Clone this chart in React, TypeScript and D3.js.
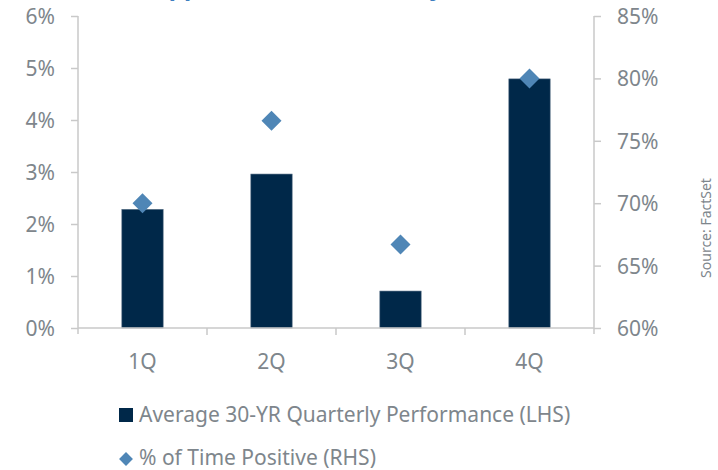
import React from "react";
import * as d3 from "d3";

const quarters = ["1Q", "2Q", "3Q", "4Q"];
const avgPerformance = [2.28, 2.96, 0.71, 4.79];
const timePositive = [70.0, 76.6, 66.7, 80.0];
const leftTicks = [0, 1, 2, 3, 4, 5, 6];
const rightTicks = [60, 65, 70, 75, 80, 85];
const legendLabels = [
  "Average 30-YR Quarterly Performance (LHS)",
  "% of Time Positive (RHS)",
];

const W = 718;
const H = 470;
const margin = { top: 16, right: 124, bottom: 142, left: 78 };
const FONT = "'Noto Sans', sans-serif";
const GRAY = "#7e868c";
const AXIS = "#c9c9c9";
const BAR = "#002849";
const DIAMOND = "#4f86b6";
const FS = 21;

export default function App() {
  const ref = React.useRef<SVGSVGElement>(null);

  React.useEffect(() => {
    const svg = d3.select(ref.current);
    svg.selectAll("*").remove();

    const x0 = margin.left;
    const x1 = W - margin.right;
    const y0 = H - margin.bottom;
    const y1 = margin.top;

    const x = d3.scaleBand().domain(quarters).range([x0, x1]);
    const yL = d3.scaleLinear().domain([0, 6]).range([y0, y1]);
    const yR = d3.scaleLinear().domain([60, 85]).range([y0, y1]);

    // title (cut off at the top of the frame, as in the source image)
    svg
      .append("text")
      .attr("x", 140)
      .attr("y", -5)
      .attr("font-family", FONT)
      .attr("font-weight", 700)
      .attr("font-size", 24)
      .attr("fill", "#3f7fc0")
      .text("Support from Seasonality Builds Late in the Year");

    // left axis
    const gl = svg
      .append("g")
      .attr("transform", `translate(${x0},0)`)
      .call(
        d3
          .axisLeft(yL)
          .tickValues(leftTicks)
          .tickSize(7)
          .tickPadding(16)
          .tickFormat((d) => `${d}%`)
      );
    gl.select(".domain").remove();
    gl.append("line").attr("x1", 0).attr("x2", 0).attr("y1", y1).attr("y2", y0 + 6).attr("stroke", AXIS).attr("stroke-width", 1.5);

    // right axis
    const gr = svg
      .append("g")
      .attr("transform", `translate(${x1},0)`)
      .call(
        d3
          .axisRight(yR)
          .tickValues(rightTicks)
          .tickSize(7)
          .tickPadding(16)
          .tickFormat((d) => `${d}%`)
      );
    gr.select(".domain").remove();
    gr.append("line").attr("x1", 0).attr("x2", 0).attr("y1", y1).attr("y2", y0 + 6).attr("stroke", AXIS).attr("stroke-width", 1.5);

    [gl, gr].forEach((g) => {
      g.selectAll(".tick line").attr("stroke", AXIS).attr("stroke-width", 1.5);
      g.selectAll(".tick text")
        .attr("fill", GRAY)
        .attr("font-family", FONT)
        .attr("font-size", FS)
        .attr("dy", "0.36em");
    });

    // bars
    const bw = x.bandwidth() * 0.32;
    svg
      .append("g")
      .selectAll("rect")
      .data(quarters)
      .join("rect")
      .attr("x", (d) => (x(d) as number) + x.bandwidth() / 2 - bw / 2)
      .attr("y", (d, i) => yL(avgPerformance[i]))
      .attr("width", bw)
      .attr("height", (d, i) => y0 - yL(avgPerformance[i]))
      .attr("fill", BAR)
      .attr("stroke", "#45607a")
      .attr("stroke-width", 0.6);

    // x axis
    svg.append("line").attr("x1", x0).attr("x2", x1).attr("y1", y0).attr("y2", y0).attr("stroke", AXIS).attr("stroke-width", 1.5);
    svg
      .append("g")
      .selectAll("line")
      .data(quarters.slice(1))
      .join("line")
      .attr("x1", (d) => x(d) as number)
      .attr("x2", (d) => x(d) as number)
      .attr("y1", y0)
      .attr("y2", y0 + 7)
      .attr("stroke", AXIS)
      .attr("stroke-width", 1.5);
    svg
      .append("g")
      .selectAll("text")
      .data(quarters)
      .join("text")
      .attr("x", (d) => (x(d) as number) + x.bandwidth() / 2)
      .attr("y", 369)
      .attr("text-anchor", "middle")
      .attr("fill", GRAY)
      .attr("font-family", FONT)
      .attr("font-size", FS)
      .text((d) => d);

    // diamonds
    const diamond = d3.symbol().type(d3.symbolSquare).size(200);
    svg
      .append("g")
      .selectAll("path")
      .data(quarters)
      .join("path")
      .attr("d", diamond() as string)
      .attr(
        "transform",
        (d, i) => `translate(${(x(d) as number) + x.bandwidth() / 2},${yR(timePositive[i])}) rotate(45)`
      )
      .attr("fill", DIAMOND);

    // legend
    const lg = svg.append("g");
    lg.append("rect").attr("x", 119).attr("y", 408).attr("width", 14).attr("height", 14).attr("fill", BAR);
    lg.append("path")
      .attr("d", d3.symbol().type(d3.symbolSquare).size(96)() as string)
      .attr("transform", "translate(126,459) rotate(45)")
      .attr("fill", DIAMOND);
    lg.selectAll("text")
      .data(legendLabels)
      .join("text")
      .attr("x", 139)
      .attr("y", (d, i) => 422 + i * 43)
      .attr("fill", GRAY)
      .attr("font-family", FONT)
      .attr("font-size", FS)
      .text((d) => d);

    // source
    svg
      .append("text")
      .attr("transform", "translate(711,228) rotate(-90)")
      .attr("text-anchor", "middle")
      .attr("fill", GRAY)
      .attr("font-family", FONT)
      .attr("font-size", 14)
      .text("Source: FactSet");
  }, []);

  return (
    <svg
      ref={ref}
      width={W}
      height={H}
      style={{ position: "absolute", left: 0, top: 0, background: "#fff" }}
    />
  );
}
